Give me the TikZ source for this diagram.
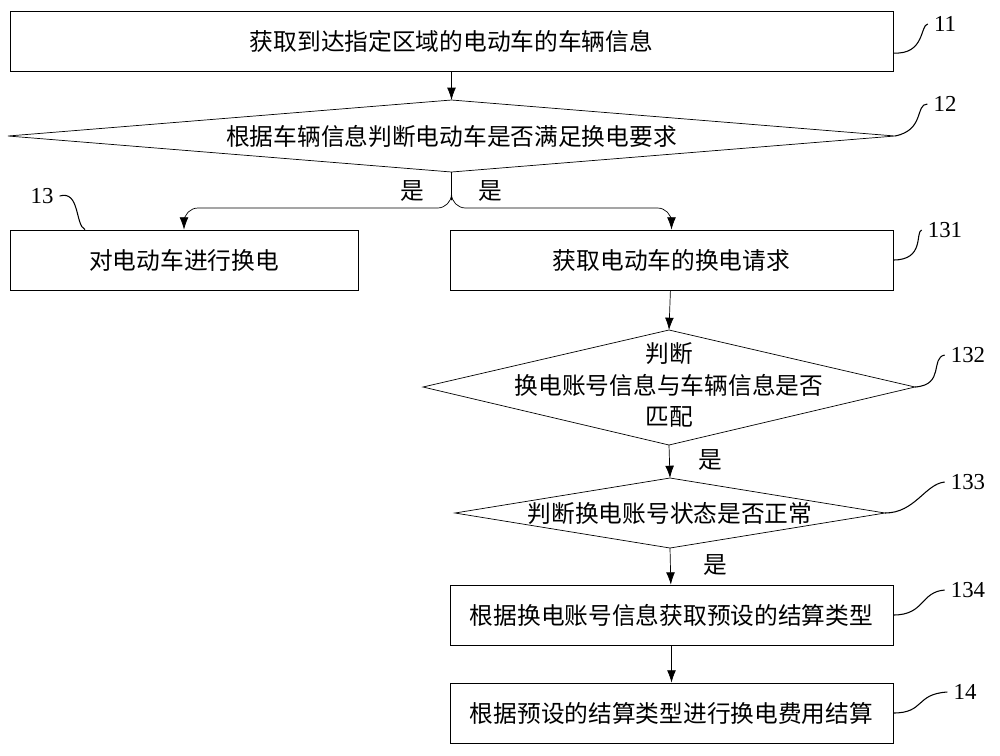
\documentclass[tikz,border=0pt]{standalone}
\usepackage{fontspec}
\setmainfont{Liberation Serif}
\newfontfamily\cjk{Noto Sans CJK SC}
\usetikzlibrary{arrows.meta}
\begin{document}
\begin{tikzpicture}[x=0.02cm,y=-0.02cm,>={Latex[length=7pt,width=5pt]},
	font=\cjk\fontsize{13.5}{17}\selectfont,
	box/.style={draw,minimum height=1.2cm},
	lead/.style={line width=0.6pt},
	num/.style={font=\fontsize{13}{15}\selectfont}]
	\useasboundingbox (0,0) rectangle (1000,755);
	% boxes
	\node[box,minimum width=17.66cm] (b11) at (451.5,41) {获取到达指定区域的电动车的车辆信息};
	\node[box,minimum width=6.96cm] (b13) at (184,260) {对电动车进行换电};
	\node[box,minimum width=8.86cm] (b131) at (671.5,260) {获取电动车的换电请求};
	\node[box,minimum width=8.86cm] (b134) at (671.5,615) {根据换电账号信息获取预设的结算类型};
	\node[box,minimum width=8.86cm] (b14) at (671.5,713) {根据预设的结算类型进行换电费用结算};
	% decisions
	\coordinate (d12n) at (451.5,100); \coordinate (d12s) at (451.5,172);
	\coordinate (d12w) at (8,136);     \coordinate (d12e) at (895,136);
	\draw (d12n) -- (d12e) -- (d12s) -- (d12w) -- cycle;
	\node (d12) at (451.5,136) {根据车辆信息判断电动车是否满足换电要求};
	\coordinate (d132n) at (669,330); \coordinate (d132s) at (669,445);
	\coordinate (d132w) at (423,387); \coordinate (d132e) at (915,387);
	\draw (d132n) -- (d132e) -- (d132s) -- (d132w) -- cycle;
	\node[align=center,font=\cjk\fontsize{13.5}{18}\selectfont] (d132) at (669,385) {判断\\换电账号信息与车辆信息是否\\匹配};
	\coordinate (d133n) at (670,478); \coordinate (d133s) at (670,548);
	\coordinate (d133w) at (455,513); \coordinate (d133e) at (885,513);
	\draw (d133n) -- (d133e) -- (d133s) -- (d133w) -- cycle;
	\node (d133) at (670,513) {判断换电账号状态是否正常};
	% connectors
	\coordinate (split) at (451.5,200);
	\draw[->] (b11) -- (d12n);
	\draw (d12s) -- (split);
	\draw[->,rounded corners=8] (split) |- (300,208) -| (b13.north);
	\draw[->,rounded corners=8] (split) |- (600,208) -| (b131.north);
	\node (y1) at (412,191) {是};
	\node (y2) at (490,191) {是};
	\draw[->] (b131) -- (d132n);
	\draw[->] (d132s) -- (d133n);
	\node (y3) at (710,460) {是};
	\draw[->] (d133s) -- (b134);
	\node (y4) at (715,565) {是};
	\draw[->] (b134) -- (b14);
	% labels
	\node[num] (n11) at (945,24) {11};
	\node[num] (n12) at (945,104) {12};
	\node[num] (n13) at (42,196) {13};
	\node[num] (n131) at (945,230) {131};
	\node[num] (n132) at (968,355) {132};
	\node[num] (n133) at (968,482) {133};
	\node[num] (n134) at (968,590) {134};
	\node[num] (n14) at (965,692) {14};
	\draw[lead] (b11.east) ++(0,12) coordinate (c11) .. controls (925,55) and (920,25) .. (n11.west);
	\draw[lead] (d12e) .. controls (925,130) and (915,104) .. (n12.west);
	\draw[lead] (n13.east) .. controls (80,190) and (75,225) .. (b13.north -| 85,0);
	\draw[lead] (b131.east) .. controls (925,260) and (915,232) .. (n131.west);
	\draw[lead] (d132e) .. controls (945,385) and (930,358) .. (n132.west);
	\draw[lead] (d133e) .. controls (915,513) and (925,484) .. (n133.west);
	\draw[lead] (b134.east) .. controls (925,615) and (920,592) .. (n134.west);
	\draw[lead] (b14.east) .. controls (925,713) and (915,694) .. (n14.west);
\end{tikzpicture}
\end{document}
